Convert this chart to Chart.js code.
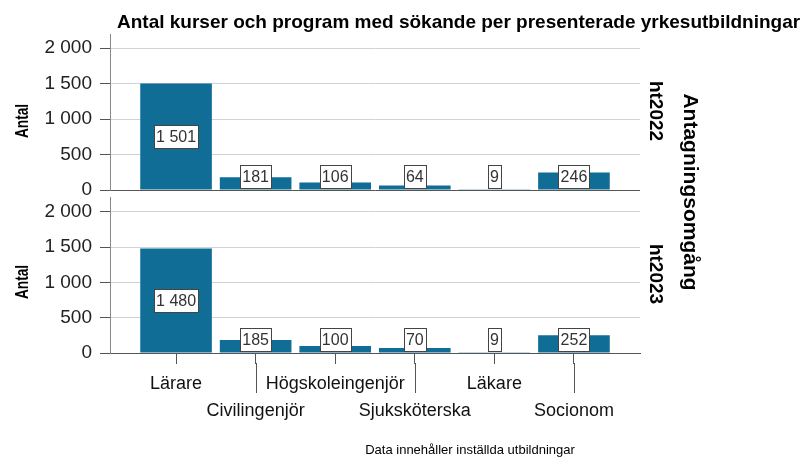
<!DOCTYPE html>
<html><head><meta charset="utf-8">
<script src="https://cdn.jsdelivr.net/npm/chart.js@4.4.1/dist/chart.umd.min.js"></script>
<style>
html,body{margin:0;padding:0;background:#fff;}
body{width:812px;height:458px;position:relative;overflow:hidden;font-family:"Liberation Sans",Arial,sans-serif;}
canvas{position:absolute;left:0;}
.t{position:absolute;white-space:nowrap;color:#000;line-height:1;}
.c{transform:translate(-50%,-50%);}
.rl{transform:translate(-50%,-50%) rotate(-90deg) scaleX(0.72);}
.rr{transform:translate(-50%,-50%) rotate(90deg);}
</style></head><body>
<canvas id="c1" width="812" height="202" style="top:0"></canvas>
<canvas id="c2" width="812" height="272" style="top:186px"></canvas>
<div class="t" id="title" style="left:117px;top:12px;font-size:19px;font-weight:bold;">Antal kurser och program med sökande per presenterade yrkesutbildningar</div>
<div class="t rl" style="left:21px;top:121px;font-size:19px;font-weight:bold;">Antal</div>
<div class="t rl" style="left:21px;top:282px;font-size:19px;font-weight:bold;">Antal</div>
<div class="t rr" style="left:656px;top:111px;font-size:19px;font-weight:bold;">ht2022</div>
<div class="t rr" style="left:656px;top:274px;font-size:19px;font-weight:bold;">ht2023</div>
<div class="t rr" style="left:691px;top:192px;font-size:21px;font-weight:bold;">Antagningsomgång</div>
<div class="t c" style="left:470px;top:449px;font-size:13px;">Data innehåller inställda utbildningar</div>
<script>
const categories = ['Lärare','Civilingenjör','Högskoleingenjör','Sjuksköterska','Läkare','Socionom'];
const ht2022 = [1501,181,106,64,9,246];
const ht2023 = [1480,185,100,70,9,252];
const yTickValues = [0,500,1000,1500,2000];

Chart.defaults.font.family = "'Liberation Sans', Arial, sans-serif";

function fmt(v){ return String(v).replace(/\B(?=(\d{3})+(?!\d))/g,' '); }

const BAR = '#0f6d96';

const valueLabels = {
  id:'valueLabels',
  afterDatasetsDraw(chart){
    const ctx = chart.ctx;
    const meta = chart.getDatasetMeta(0);
    const ds = chart.data.datasets[0];
    ctx.save();
    ctx.font = "16px 'Liberation Sans', Arial, sans-serif";
    meta.data.forEach((bar,i)=>{
      const txt = fmt(ds.data[i].y);
      const w = Math.round(ctx.measureText(txt).width) + 4;
      const h = 23;
      let cy = (bar.y + bar.base)/2;
      cy = Math.min(cy, bar.base - 2 - h/2);
      const x0 = Math.round(bar.x - w/2) + 0.5, y0 = Math.round(cy - h/2) + 0.5;
      ctx.fillStyle = '#fff'; ctx.fillRect(x0,y0,w,h);
      ctx.strokeStyle = '#444'; ctx.lineWidth = 1; ctx.strokeRect(x0,y0,w,h);
      ctx.fillStyle = '#333'; ctx.textAlign = 'center'; ctx.textBaseline = 'middle';
      ctx.fillText(txt, bar.x, y0 + h/2 + 1);
    });
    ctx.restore();
  }
};

const longTicks = {
  id:'longTicks',
  afterDraw(chart){
    const s = chart.scales.x;
    if (!s || !s.options.display) return;
    const ctx = chart.ctx;
    ctx.save();
    ctx.strokeStyle = '#555'; ctx.lineWidth = 1;
    categories.forEach((c,i)=>{
      if (i % 2 === 1) {
        const x = Math.round(s.getPixelForValue(i)) + 0.5;
        ctx.beginPath(); ctx.moveTo(x, s.top + 10); ctx.lineTo(x, s.top + 40); ctx.stroke();
      }
    });
    ctx.restore();
  }
};

function makeChart(id, values, showX, padTop, padBottom){
  return new Chart(document.getElementById(id), {
    type:'bar',
    data:{ datasets:[{ data: values.map((v,i)=>({x:i, y:v})), backgroundColor: BAR, borderWidth:0, barPercentage:0.9, categoryPercentage:1 }] },
    options:{
      responsive:false, animation:false,
      layout:{ padding:{ left:0, right:172, top:padTop, bottom:padBottom } },
      plugins:{ legend:{display:false}, tooltip:{enabled:false}, title:{display:false} },
      scales:{
        x:{
          type:'linear', min:-0.83, max:5.83, display:showX, offset:false,
          afterBuildTicks: s => { s.ticks = categories.map((c,i)=>({value:i})); },
          afterFit: s => { if (showX) s.height = 105; s.paddingLeft = 0; s.paddingRight = 0; },
          ticks:{ autoSkip:false, maxRotation:0, minRotation:0, padding:7, color:'#111',
                  font:{ size:18, lineHeight:1.5 },
                  callback: v => (v % 2 === 0) ? [categories[v]] : ['', categories[v]] },
          grid:{ offset:false, drawOnChartArea:false, drawTicks:true, tickLength:11, color:'#555', tickColor:'#555' },
          border:{ display:true, color:'#555' }
        },
        y:{
          min:0, max:2200,
          afterBuildTicks: s => { s.ticks = yTickValues.map(v=>({value:v})); },
          afterFit: s => { s.width = 110; s.paddingTop = 0; s.paddingBottom = 0; },
          ticks:{ callback: v => fmt(v), color:'#222', padding:8, font:{ size:19 } },
          grid:{ color: c => (c.tick && c.tick.value === 0) ? '#555' : '#d2d2d2', tickColor:'#555', tickLength:10, lineWidth:1 },
          border:{ color:'#888' }
        }
      }
    },
    plugins:[valueLabels, longTicks]
  });
}

makeChart('c1', ht2022, false, 34, 12);
makeChart('c2', ht2023, true, 11.6, 0);
</script>
</body></html>
